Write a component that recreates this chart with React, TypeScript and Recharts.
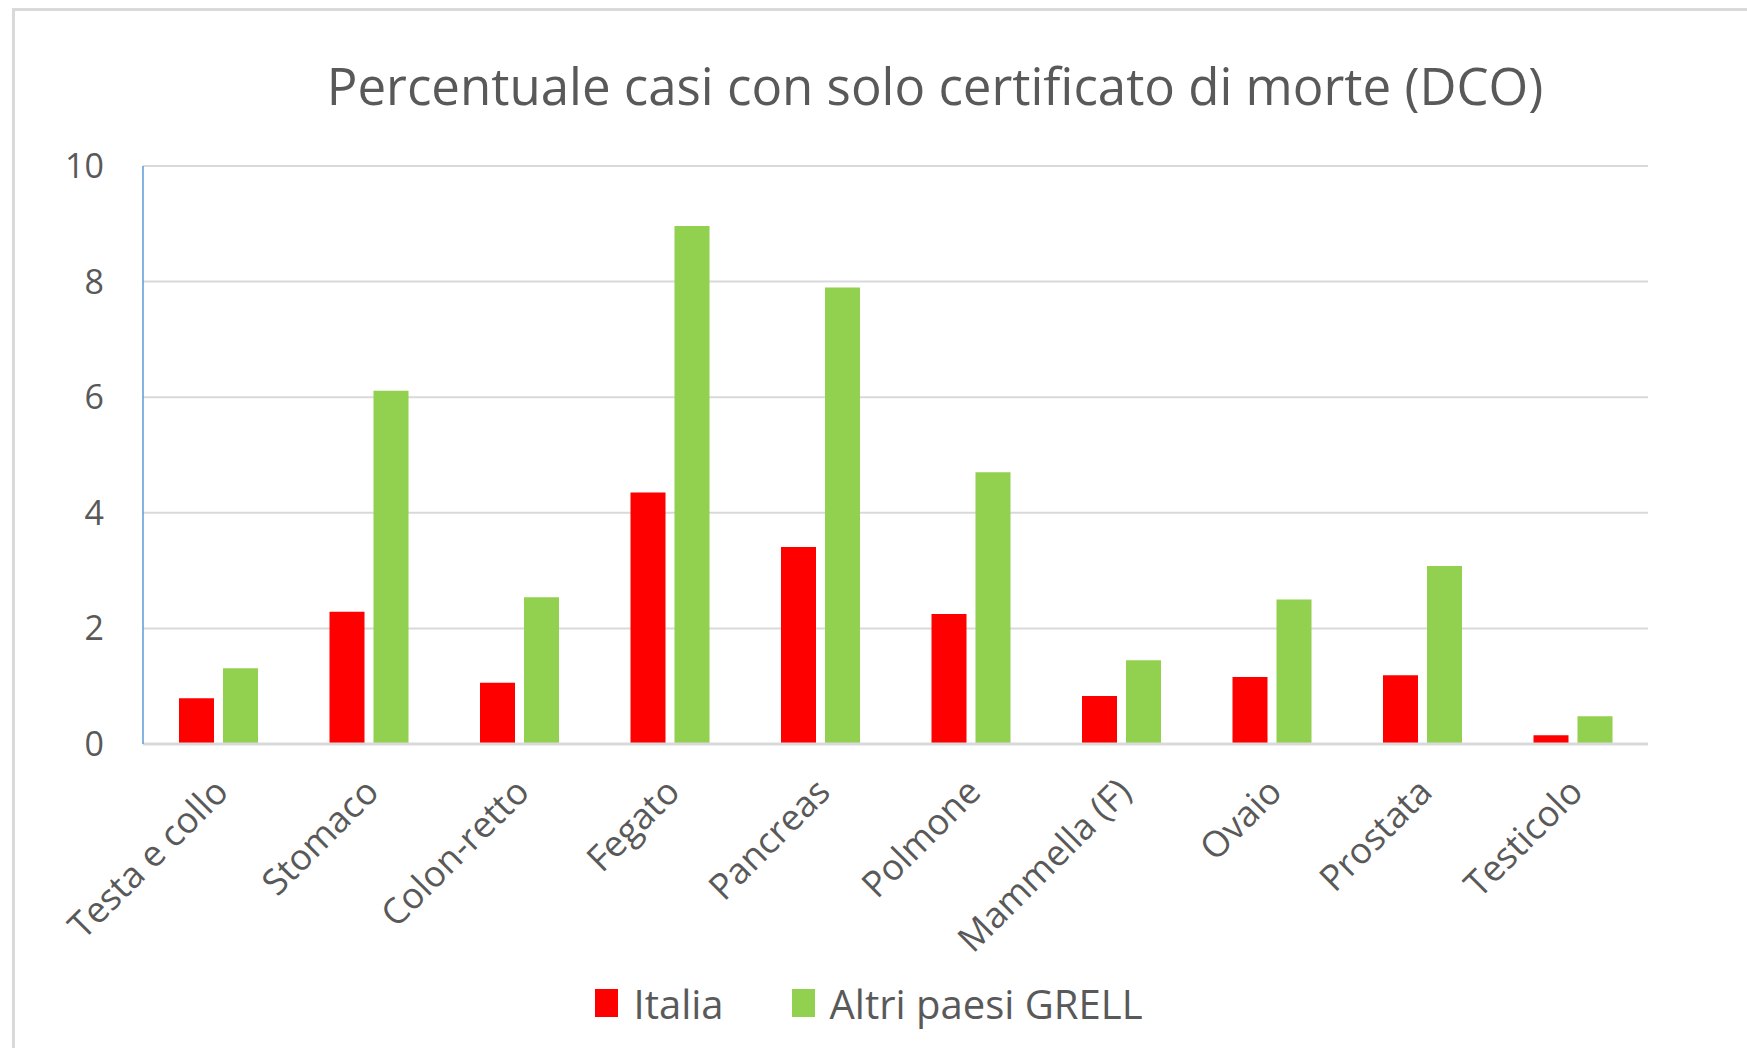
import { BarChart, Bar, XAxis, YAxis, CartesianGrid, Legend } from 'recharts';

const categories = [
  'Testa e collo',
  'Stomaco',
  'Colon-retto',
  'Fegato',
  'Pancreas',
  'Polmone',
  'Mammella (F)',
  'Ovaio',
  'Prostata',
  'Testicolo',
];
const italia = [0.79, 2.29, 1.06, 4.35, 3.41, 2.25, 0.83, 1.16, 1.19, 0.15];
const altriPaesi = [1.31, 6.11, 2.54, 8.96, 7.9, 4.7, 1.45, 2.5, 3.08, 0.48];
const yTicks = [0, 2, 4, 6, 8, 10];

const data = categories.map((name, i) => ({
  name,
  italia: italia[i],
  altri: altriPaesi[i],
}));

const FONT = "'Open Sans', 'Noto Sans', sans-serif";
const TEXT = '#595959';

function AngledTick(props: any) {
  const { x, y, payload } = props;
  const px = x + 12;
  const py = y + 42;
  return (
    <text
      x={px}
      y={py}
      transform={`rotate(-45, ${px}, ${py})`}
      textAnchor="end"
      fill={TEXT}
      fontSize={36}
      fontFamily={FONT}
    >
      {payload.value}
    </text>
  );
}

function LegendContent() {
  const items = [
    { label: 'Italia', color: '#ff0000' },
    { label: 'Altri paesi GRELL', color: '#92d050' },
  ];
  return (
    <div style={{ display: 'flex', justifyContent: 'center', alignItems: 'center', height: 70, paddingLeft: 90 }}>
      {items.map((it) => (
        <div key={it.label} style={{ display: 'flex', alignItems: 'center', margin: '0 34px' }}>
          <span style={{ width: 23, height: 28, background: it.color, display: 'inline-block', marginRight: 15 }} />
          <span style={{ fontFamily: FONT, fontSize: 40, color: TEXT }}>{it.label}</span>
        </div>
      ))}
    </div>
  );
}

export default function App() {
  return (
    <div style={{ position: 'absolute', left: 0, top: 0, width: 1747, height: 1048, background: '#fff', overflow: 'hidden' }}>
      {/* chart frame, only top and left edges are in view */}
      <div
        style={{
          position: 'absolute',
          left: 12,
          top: 8,
          width: 1800,
          height: 1100,
          borderTop: '3px solid #d9d9d9',
          borderLeft: '3px solid #d9d9d9',
        }}
      />
      <div
        style={{
          position: 'absolute',
          left: 0,
          top: 50,
          width: 1870,
          textAlign: 'center',
          fontFamily: FONT,
          fontSize: 51,
          color: TEXT,
          whiteSpace: 'nowrap',
        }}
      >
        Percentuale casi con solo certificato di morte (DCO)
      </div>
      <div style={{ position: 'absolute', left: 0, top: 0 }}>
        <BarChart
          width={1747}
          height={1048}
          data={data}
          margin={{ top: 166, right: 99, left: 0, bottom: 10 }}
          barSize={35}
          barGap={9}
        >
          <CartesianGrid vertical={false} stroke="#d9d9d9" strokeWidth={2} />
          <XAxis
            dataKey="name"
            interval={0}
            height={224}
            tick={<AngledTick />}
            tickLine={false}
            axisLine={{ stroke: '#d9d9d9', strokeWidth: 3 }}
          />
          <YAxis
            width={143}
            domain={[0, 10]}
            ticks={yTicks}
            tickSize={0}
            tickMargin={39}
            tickLine={false}
            axisLine={{ stroke: '#5b9bd5', strokeWidth: 1.5 }}
            tick={{ fill: TEXT, fontSize: 34, fontFamily: FONT }}
          />
          <Legend verticalAlign="bottom" height={70} content={<LegendContent />} />
          <Bar dataKey="italia" name="Italia" fill="#ff0000" isAnimationActive={false} />
          <Bar dataKey="altri" name="Altri paesi GRELL" fill="#92d050" isAnimationActive={false} />
        </BarChart>
      </div>
    </div>
  );
}
